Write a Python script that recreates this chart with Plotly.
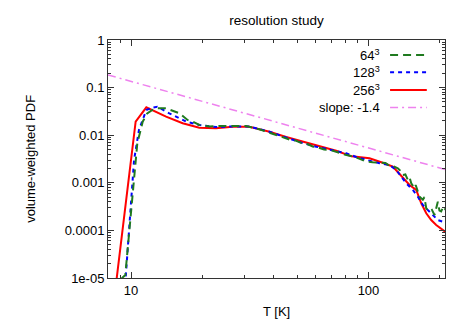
import numpy as np
import plotly.graph_objects as go

# temperature bins [K] and volume-weighted PDF
T_64 = [8.9, 9.17, 9.46, 10.63, 11.2, 11.7, 12.3, 12.9, 14.05, 15.2, 16.0, 17.3, 18.2,
        19.4, 21.4, 23.6, 25.1, 28.6, 30.5, 34.7, 38.3, 42.2, 46.5, 49, 52, 55, 58.2,
        61, 65, 69, 73.1, 76, 80, 84, 88.8, 93, 97.8, 104, 111.2, 118, 122, 126.6,
        132.9, 136, 139.5, 143, 146.4, 148.9, 151.4, 156.3, 158, 161.4, 164.1, 169.4,
        172, 175.1, 180.8, 185, 189.7, 195.9, 199, 202.3, 207, 211]
pdf_64 = [5e-6, 1e-5, 1.15e-5, 0.00676, 0.0192, 0.0288, 0.0338, 0.0367, 0.0367, 0.0312,
          0.0288, 0.0209, 0.0192, 0.0164, 0.0153, 0.0156, 0.0156, 0.0158, 0.0156, 0.0133,
          0.0113, 0.0096, 0.0081, 0.0078, 0.0069, 0.0066, 0.0058, 0.0056, 0.0050, 0.0049,
          0.0044, 0.0042, 0.0039, 0.0037, 0.0034, 0.0031, 0.0028, 0.0027, 0.00264, 0.0026,
          0.0023, 0.00225, 0.00202, 0.0018, 0.00146, 0.0015, 0.00115, 0.0013, 0.00098,
          0.00077, 0.0009, 0.00065, 0.00051, 0.00044, 0.0005, 0.00029, 0.00025, 0.00027,
          0.00021, 0.0004, 0.00026, 0.00025, 0.00032, 0.00027]

T_128 = [9.4, 10.3, 10.8, 11.6, 12.3, 12.9, 14.5, 17.1, 19.4, 22.8, 26.8, 31.5, 38.3, 45,
         52.9, 60.3, 70, 80.5, 90, 97.8, 111.2, 122.5, 130.9, 137.4, 144.2, 153.8, 161.4,
         169.4, 177.8, 186.6, 195.9, 205.6, 211]
pdf_128 = [5e-6, 0.003, 0.0129, 0.0338, 0.038, 0.0397, 0.0288, 0.0192, 0.0164, 0.0148,
           0.0153, 0.0152, 0.0118, 0.0090, 0.0068, 0.00573, 0.0048, 0.00417, 0.0034,
           0.00301, 0.00257, 0.00237, 0.00186, 0.00134, 0.00098, 0.000706, 0.00051,
           0.000342, 0.000268, 0.000211, 0.000165, 0.000152, 0.00014]

T_256 = [8.6, 10.46, 11.6, 14.05, 16.5, 19.4, 22.8, 26.8, 31.5, 38.3, 45, 52.9, 62.1,
         73.1, 85, 101, 114.8, 126.6, 135.2, 141.9, 148.9, 158.9, 166.8, 175.1, 183.7,
         192.8, 205.6, 211]
pdf_256 = [6e-6, 0.0192, 0.0385, 0.0245, 0.0178, 0.0144, 0.0140, 0.0151, 0.0151, 0.0118,
           0.0092, 0.0073, 0.0060, 0.00472, 0.0036, 0.00327, 0.00264, 0.00218, 0.00153,
           0.00115, 0.0009, 0.000706, 0.000371, 0.000229, 0.000165, 0.00013, 0.000102,
           9.3e-5]

# power-law guide, slope -1.4
T_slope = [8, 210]
pdf_slope = [0.185, 0.185 * (210 / 8) ** -1.4]

series = [
    ('64<sup>3</sup>', T_64, pdf_64, '#1f7a1f', '8px,5px', 2),
    ('128<sup>3</sup>', T_128, pdf_128, '#0000ff', '4px,4px', 2),
    ('256<sup>3</sup>', T_256, pdf_256, '#ff0000', 'solid', 2),
    ('slope: -1.4', T_slope, pdf_slope, '#ee82ee', '8px,4px,2px,4px', 1.5),
]

fig = go.Figure()

# draw slope first so data lines sit on top
for name, x, y, color, dash, w in series[::-1]:
    fig.add_trace(go.Scatter(x=x, y=y, mode='lines', name=name,
                             line=dict(color=color, dash=dash, width=w)))

# gnuplot-style key: text on the left, line sample on the right
row_y = [0.937, 0.864, 0.790, 0.716]
for (name, x, y, color, dash, w), yy in zip(series, row_y):
    fig.add_annotation(x=0.812, y=yy, xref='paper', yref='paper', text=name,
                       showarrow=False, xanchor='right', yanchor='middle',
                       font=dict(size=13, color='black'))
    fig.add_shape(type='line', xref='paper', yref='paper', x0=0.837, x1=0.946,
                  y0=yy, y1=yy, line=dict(color=color, dash=dash, width=w))

# axis labels placed like gnuplot does
fig.add_annotation(x=0.5, y=-0.142, xref='paper', yref='paper', text='T [K]',
                   showarrow=False, xanchor='center', yanchor='middle',
                   font=dict(size=13))
fig.add_annotation(x=-0.232, y=0.5, xref='paper', yref='paper',
                   text='volume-weighted PDF', textangle=-90, showarrow=False,
                   xanchor='center', yanchor='middle', font=dict(size=13))

frame = dict(showline=True, linecolor='#333333', linewidth=1, mirror='allticks',
             ticks='inside', ticklen=6, tickcolor='#333333', showgrid=False,
             zeroline=False, tickfont=dict(size=13), automargin=False)

fig.update_xaxes(type='log', range=[np.log10(8), np.log10(210)],
                 tickvals=[10, 100], ticktext=['10', '100'],
                 minor=dict(ticks='inside', ticklen=3, tickcolor='#333333',
                            tickvals=[9] + list(range(20, 100, 10)) + [200]),
                 **frame)

ydec = [1e-5, 1e-4, 1e-3, 1e-2, 1e-1, 1]
fig.update_yaxes(type='log', range=[-5, 0],
                 tickvals=ydec, ticktext=['1e-05', '0.0001', '0.001', '0.01', '0.1', '1'],
                 minor=dict(ticks='inside', ticklen=3, tickcolor='#333333',
                            tickvals=[m * d for d in ydec[:-1] for m in range(2, 10)]),
                 **frame)

# the page body adds an 8px margin top/left, so the figure is shrunk by that much
fig.update_layout(
    template='none',
    width=452, height=314,
    margin=dict(l=100, r=15, t=32, b=44),
    paper_bgcolor='white', plot_bgcolor='white',
    font=dict(family='Liberation Sans, Arial, sans-serif', size=13, color='black'),
    title=dict(text='resolution study', x=0.5, xref='paper', xanchor='center',
               y=1 - 12 / 314, yanchor='middle', font=dict(size=13.5)),
    showlegend=False,
)

fig.write_html("out.html")
